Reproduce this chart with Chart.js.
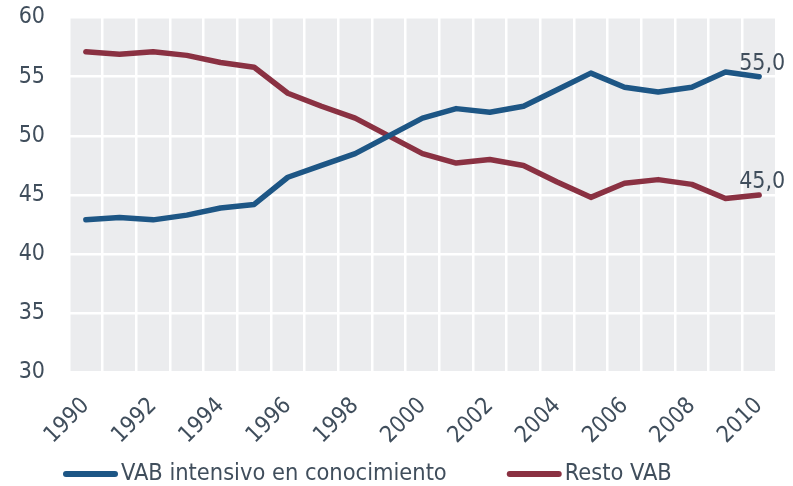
<!DOCTYPE html>
<html>
<head>
<meta charset="utf-8">
<script src="https://cdn.jsdelivr.net/npm/chart.js@4/dist/chart.umd.min.js"></script>
<style>
html,body{margin:0;padding:0;background:#fff;}
#wrap{width:793px;height:486px;position:relative;}
</style>
</head>
<body>
<div id="wrap"><canvas id="c" width="793" height="486"></canvas></div>
<script>
const years = ['1990','1991','1992','1993','1994','1995','1996','1997','1998','1999','2000','2001','2002','2003','2004','2005','2006','2007','2008','2009','2010'];
const vabIntensivo = [42.9, 43.1, 42.9, 43.3, 43.9, 44.2, 46.5, 47.5, 48.5, 50.0, 51.5, 52.3, 52.0, 52.5, 53.9, 55.3, 54.1, 53.7, 54.1, 55.4, 55.0];
const restoVab = [57.1, 56.9, 57.1, 56.8, 56.2, 55.8, 53.6, 52.5, 51.5, 50.0, 48.5, 47.7, 48.0, 47.5, 46.1, 44.8, 46.0, 46.3, 45.9, 44.7, 45.0];
const seriesNames = ['VAB intensivo en conocimiento', 'Resto VAB'];
const yTickValues = [30, 35, 40, 45, 50, 55, 60];

const TXT = '#404e5c';
const FONT = 'DejaVu Sans Condensed';
const FS = 23;
const LFS = 23.4;

const bgPlugin = {
  id: 'bg',
  beforeDraw(chart) {
    const a = chart.chartArea, ctx = chart.ctx;
    ctx.save();
    ctx.fillStyle = '#ebecee';
    ctx.fillRect(a.left, a.top, a.right - a.left, a.bottom - a.top);
    ctx.restore();
  }
};

const endLabels = {
  id: 'endLabels',
  afterDatasetsDraw(chart) {
    const ctx = chart.ctx;
    ctx.save();
    ctx.font = FS + 'px "' + FONT + '"';
    ctx.fillStyle = TXT;
    ctx.textAlign = 'center';
    ctx.textBaseline = 'alphabetic';
    chart.data.datasets.forEach((ds, i) => {
      const meta = chart.getDatasetMeta(i);
      const last = meta.data[meta.data.length - 1];
      const v = ds.data[ds.data.length - 1];
      ctx.fillText(v.toFixed(1).replace('.', ','), last.x + 3, last.y - 7);
    });
    ctx.restore();
  }
};

const customLegend = {
  id: 'customLegend',
  afterDraw(chart) {
    const ctx = chart.ctx;
    ctx.save();
    ctx.font = LFS + 'px "' + FONT + '"';
    ctx.textBaseline = 'middle';
    ctx.textAlign = 'left';
    let x = 63;
    const y = 474;
    chart.data.datasets.forEach(ds => {
      ctx.strokeStyle = ds.borderColor;
      ctx.lineWidth = 6;
      ctx.lineCap = 'round';
      ctx.beginPath();
      ctx.moveTo(x + 3, y);
      ctx.lineTo(x + 52, y);
      ctx.stroke();
      ctx.fillStyle = TXT;
      ctx.fillText(ds.label, x + 58, y);
      x = x + 58 + ctx.measureText(ds.label).width + 60;
    });
    ctx.restore();
  }
};

new Chart(document.getElementById('c'), {
  type: 'line',
  data: {
    labels: years,
    datasets: [
      { label: seriesNames[0], data: vabIntensivo, borderColor: '#1d5685', backgroundColor: '#1d5685', borderWidth: 5.5, pointRadius: 0, tension: 0, borderCapStyle: 'round', borderJoinStyle: 'round' },
      { label: seriesNames[1], data: restoVab, borderColor: '#8a3142', backgroundColor: '#8a3142', borderWidth: 5.5, pointRadius: 0, tension: 0, borderCapStyle: 'round', borderJoinStyle: 'round' }
    ]
  },
  options: {
    responsive: false,
    animation: false,
    layout: { padding: { top: 17.5, right: 17, bottom: 37.5, left: 0 } },
    plugins: { legend: { display: false }, tooltip: { enabled: false } },
    scales: {
      x: {
        offset: true,
        grid: { color: '#ffffff', lineWidth: 2.5, drawTicks: false, offset: true },
        border: { display: false },
        ticks: {
          autoSkip: false, maxRotation: 45, minRotation: 45, padding: 20,
          color: TXT, font: { family: FONT, size: FS },
          callback: function(val, idx) { return idx % 2 === 0 ? years[idx] : ''; }
        },
        afterFit(s) { s.height = 76; s.paddingLeft = 0; s.paddingRight = 0; }
      },
      y: {
        min: 30, max: 60,
        afterBuildTicks(s) { s.ticks = yTickValues.map(v => ({ value: v })); },
        grid: { color: '#ffffff', lineWidth: 2.5, drawTicks: false },
        border: { display: false },
        ticks: { padding: 24, color: TXT, font: { family: FONT, size: FS } },
        afterFit(s) { s.width = 69; s.paddingTop = 0; s.paddingBottom = 0; }
      }
    }
  },
  plugins: [bgPlugin, endLabels, customLegend]
});
</script>
</body>
</html>
